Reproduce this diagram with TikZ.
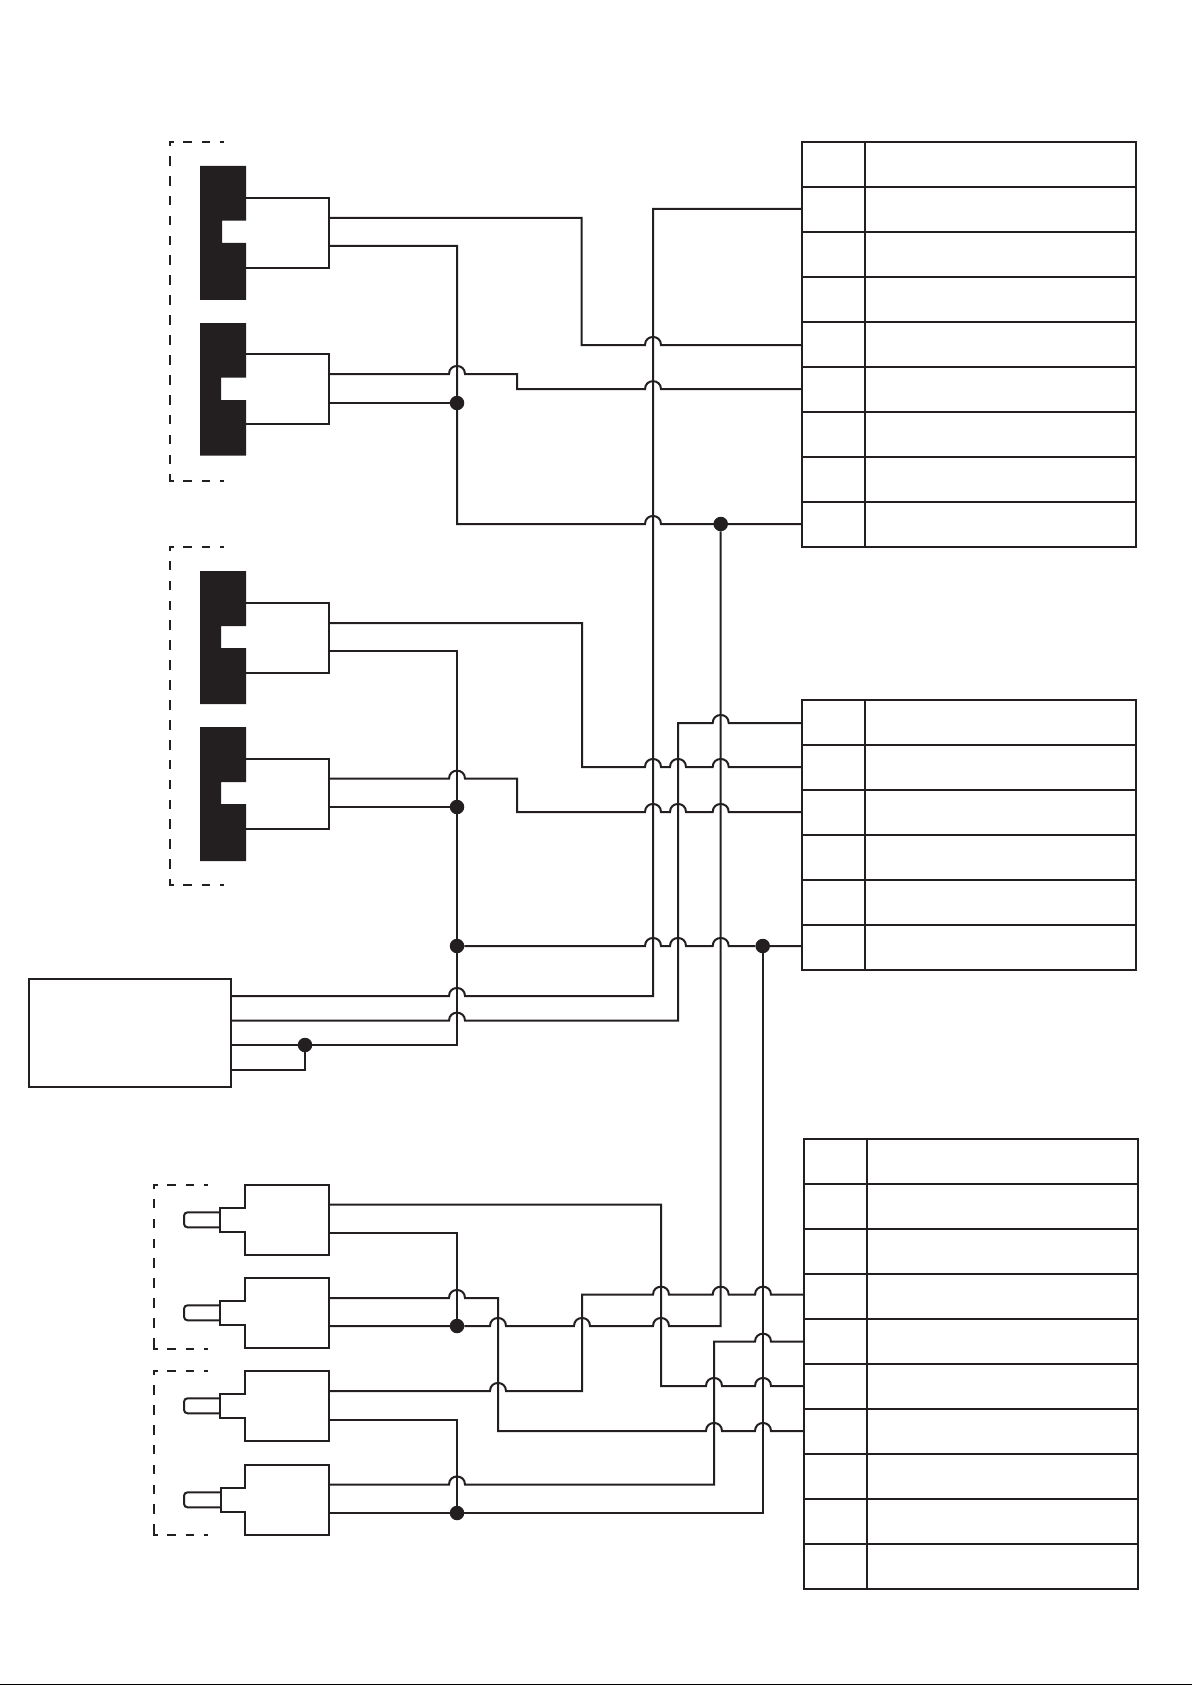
\documentclass[tikz,border=0pt]{standalone}
\definecolor{ink}{HTML}{231F20}
\tikzset{
  wire/.style={draw=ink,line width=2pt,line join=miter},
  dashH/.style={draw=ink,line width=2pt,line cap=rect,dash pattern=on 6.5pt off 11.8pt,dash phase=4.4pt},
  dashV/.style={draw=ink,line width=2pt,line cap=rect,dash pattern=on 7.7pt off 12.2pt,dash phase=4.9pt},
  junction/.style={circle,fill=ink,draw=none,minimum size=14.5pt,inner sep=0pt,outer sep=0pt},
  cell/.style={rectangle,draw=ink,line width=2pt,inner sep=0pt,outer sep=0pt},
  blackblock/.style={fill=ink,draw=none},
  bigbox/.style={rectangle,draw=ink,line width=2pt,inner sep=0pt,outer sep=0pt,minimum width=202pt,minimum height=107.7pt}
}
% a wire hopping over a vertical at x=#1 on height y=#2
\newcommand{\wirehop}[2]{-- ({#1-8},#2) .. controls ({#1-8},{#2-10.7}) and ({#1+8},{#2-10.7}) .. ({#1+8},#2)}
% name, x0, x1, x2, top, rows
\newcommand{\rowtable}[6]{%
  \foreach \i in {1,...,#6}{%
    \pgfmathsetmacro{\cy}{#5+45*(\i-1)+22.5}
    \node[cell,minimum width={#3-#2},minimum height=45pt] (#1L\i) at ({(#2+#3)/2},\cy) {};
    \node[cell,minimum width={#4-#3},minimum height=45pt] (#1R\i) at ({(#3+#4)/2},\cy) {};
  }}
% x, top, bottom
\newcommand{\dashgroup}[3]{%
  \draw[dashH] ({#1+53},#2) -- (#1,#2);
  \draw[dashV] (#1,#2) -- (#1,#3);
  \draw[dashH] ({#1+53},#3) -- (#1,#3);}
% top y, notch x, notch top, notch bottom, bottom y, body top, body bottom
\newcommand{\blackconn}[7]{%
  \draw[wire] (246,#6) -- (329,#6) -- (329,#7) -- (246,#7);
  \fill[blackblock] (200,#1) -- (246,#1) -- (246,#3) -- (#2,#3) -- (#2,#4) -- (246,#4) -- (246,#5) -- (200,#5) -- cycle;}
% top y, step left x
\newcommand{\plugconn}[2]{%
  \draw[wire] (245,#1) -- (329,#1) -- (329,{#1+70}) -- (245,{#1+70}) -- (245,{#1+47}) -- (#2,{#1+47}) -- (#2,{#1+23}) -- (245,{#1+23}) -- cycle;
  \draw[wire,rounded corners=3.5pt] (#2,{#1+27.3}) -- (184,{#1+27.3}) -- (184,{#1+42.3}) -- (#2,{#1+42.3});}
\begin{document}
\begin{tikzpicture}[x=1pt,y=-1pt]
\useasboundingbox (0,0) rectangle (1192,1685);
\fill[white] (0,0) rectangle (1192,1685);
\draw[black,line width=1pt] (0,1684.6) -- (1192,1684.6);

% dashed groups
\dashgroup{170}{142}{481}
\dashgroup{170}{546.7}{885}
\dashgroup{154}{1184.7}{1348.7}
\dashgroup{154}{1371}{1535}

% black connectors
\blackconn{166}{222}{220.7}{243}{300}{197.7}{267.7}
\blackconn{323}{221}{377.7}{400}{455.7}{354}{424}
\blackconn{571}{221}{626}{648}{704}{602.7}{672.7}
\blackconn{727}{221}{782}{804}{861}{759}{829}

% plug connectors
\plugconn{1185}{220}
\plugconn{1278}{220}
\plugconn{1371}{220}
\plugconn{1465}{220.7}

% tables
\rowtable{A}{802}{865}{1136}{142}{9}
\rowtable{B}{802}{865}{1136}{700}{6}
\rowtable{C}{804}{866.7}{1138}{1139}{10}

% left box
\node[bigbox] (box) at (130,1032.85) {};

% junctions
\node[junction] (j1) at (457,403) {};
\node[junction] (j2) at (720.7,524) {};
\node[junction] (j3) at (457,807) {};
\node[junction] (j4) at (457,946) {};
\node[junction] (j5) at (762.7,946) {};
\node[junction] (j6) at (305,1045) {};
\node[junction] (j7) at (457,1326) {};
\node[junction] (j8) at (457,1513) {};

% ports
\coordinate (pa1) at (329,218);   \coordinate (pa2) at (329,246);
\coordinate (pb1) at (329,374);   \coordinate (pb2) at (329,403);
\coordinate (pc1) at (329,623);   \coordinate (pc2) at (329,651);
\coordinate (pd1) at (329,778.7); \coordinate (pd2) at (329,807);
\coordinate (be1) at (231,996);   \coordinate (be2) at (231,1020.7);
\coordinate (be3) at (231,1045);  \coordinate (be4) at (231,1070);
\coordinate (qa1) at (329,1204.7);\coordinate (qa2) at (329,1232.7);
\coordinate (qb1) at (329,1298);  \coordinate (qb2) at (329,1326);
\coordinate (qc1) at (329,1391);  \coordinate (qc2) at (329,1420);
\coordinate (qd1) at (329,1484.5);\coordinate (qd2) at (329,1513);
\coordinate (ta2) at (802,209);   \coordinate (ta5) at (802,345);
\coordinate (ta6) at (802,389.2); \coordinate (ta9) at (802,524);
\coordinate (tb1) at (802,723);   \coordinate (tb2) at (802,767);
\coordinate (tb3) at (802,812);   \coordinate (tb6) at (802,946);
\coordinate (tc4) at (804,1294.7);\coordinate (tc5) at (804,1341.7);
\coordinate (tc6) at (804,1386);  \coordinate (tc7) at (804,1431);

% upper wires
\draw[wire] (pa1) -- (581.5,218) -- (581.5,345) \wirehop{653}{345} -- (ta5);
\draw[wire] (pa2) -- (457,246) -- (457,524) \wirehop{653}{524} -- (ta9);
\draw[wire] (pb1) \wirehop{457}{374} -- (517,374) -- (517,389.2) \wirehop{653}{389.2} -- (ta6);
\draw[wire] (pb2) -- (j1);
\draw[wire] (be1) \wirehop{457}{996} -- (653,996) -- (653,209) -- (ta2);
\draw[wire] (be2) \wirehop{457}{1020.7} -- (678,1020.7) -- (678,723) \wirehop{720.7}{723} -- (tb1);
\draw[wire] (be3) -- (j6) -- (457,1045) -- (457,651) -- (pc2);
\draw[wire] (be4) -- (305,1070) -- (j6);
\draw[wire] (pc1) -- (582,623) -- (582,767) \wirehop{653}{767} \wirehop{678}{767} \wirehop{720.7}{767} -- (tb2);
\draw[wire] (pd1) \wirehop{457}{778.7} -- (517,778.7) -- (517,812) \wirehop{653}{812} \wirehop{678}{812} \wirehop{720.7}{812} -- (tb3);
\draw[wire] (pd2) -- (j3);
\draw[wire] (j4) \wirehop{653}{946} \wirehop{678}{946} \wirehop{720.7}{946} -- (j5) -- (tb6);
\draw[wire] (j2) -- (ta9);

% lower wires
\draw[wire] (qa2) -- (457,1232.7) -- (j7);
\draw[wire] (qb2) -- (j7) \wirehop{498}{1326} \wirehop{582}{1326} \wirehop{661}{1326} -- (720.7,1326) -- (j2);
\draw[wire] (qb1) \wirehop{457}{1298} -- (498,1298) -- (498,1431) \wirehop{714}{1431} \wirehop{763}{1431} -- (tc7);
\draw[wire] (qc1) \wirehop{498}{1391} -- (582,1391) -- (582,1294.7) \wirehop{661}{1294.7} \wirehop{720.7}{1294.7} \wirehop{763}{1294.7} -- (tc4);
\draw[wire] (qa1) -- (661,1204.7) -- (661,1386) \wirehop{714}{1386} \wirehop{763}{1386} -- (tc6);
\draw[wire] (qc2) -- (457,1420) -- (j8);
\draw[wire] (qd1) \wirehop{457}{1484.5} -- (714,1484.5) -- (714,1341.7) \wirehop{763}{1341.7} -- (tc5);
\draw[wire] (qd2) -- (j8) -- (762.7,1513) -- (j5);
\end{tikzpicture}
\end{document}
